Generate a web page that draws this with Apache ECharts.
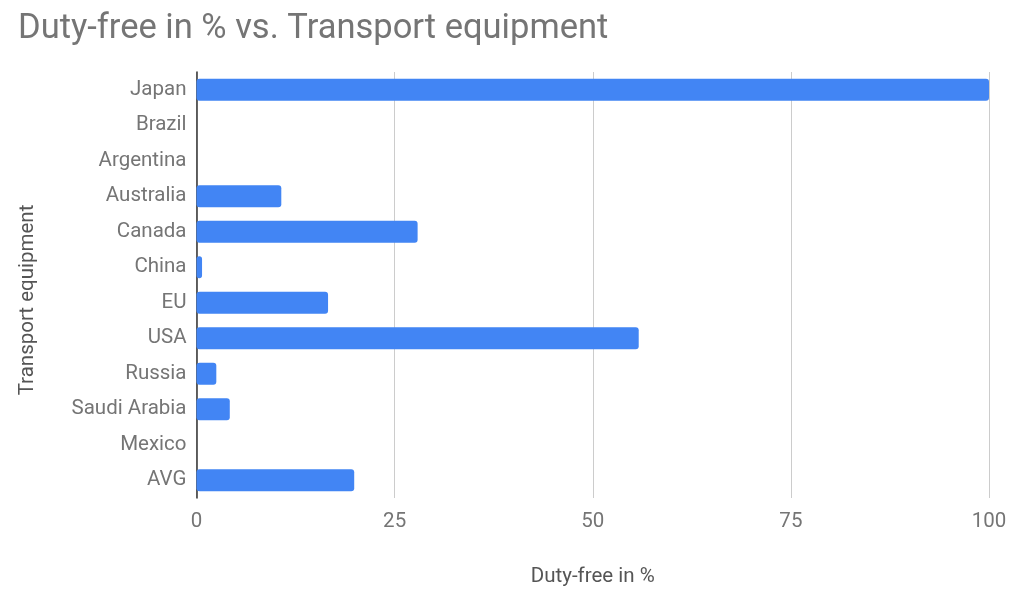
<!DOCTYPE html>
<html>
<head>
<meta charset="utf-8">
<style>html,body{margin:0;padding:0;background:#fff}#c{width:1024px;height:602px}</style>
<script src="https://cdn.jsdelivr.net/npm/echarts@6/dist/echarts.min.js"></script>
</head>
<body>
<div id="c"></div>
<script>
const categories = ["Japan","Brazil","Argentina","Australia","Canada","China","EU","USA","Russia","Saudi Arabia","Mexico","AVG"];
const dutyFree = [100, 0, 0, 10.7, 27.9, 0.7, 16.6, 55.8, 2.5, 4.2, 0, 19.9];
const xTicks = [0, 25, 50, 75, 100];

const chart = echarts.init(document.getElementById('c'));
chart.setOption({
  backgroundColor: '#fff',
  animation: false,
  title: {
    text: 'Duty-free in % vs. Transport equipment',
    left: 13, top: 7,
    textStyle: { fontFamily: 'Roboto', fontSize: 34.5, fontWeight: 'normal', color: '#757575' }
  },
  grid: { left: 196.5, right: 35, top: 72, bottom: 104, containLabel: false },
  xAxis: {
    type: 'value', min: xTicks[0], max: xTicks[xTicks.length - 1], interval: 25,
    name: 'Duty-free in %', nameLocation: 'middle', nameGap: 68,
    nameTextStyle: { fontFamily: 'Roboto', fontSize: 20.5, color: '#555' },
    axisLine: { show: false }, axisTick: { show: false },
    axisLabel: { fontFamily: 'Roboto', fontSize: 20.5, color: '#757575', margin: 13 },
    splitLine: { lineStyle: { color: '#cccccc', width: 1 } }
  },
  yAxis: {
    type: 'category', data: categories, inverse: true,
    name: 'Transport equipment', nameLocation: 'middle', nameGap: 158,
    nameTextStyle: { fontFamily: 'Roboto', fontSize: 20.5, color: '#555', padding: [0, 30, 0, 0] },
    axisLine: { show: true, lineStyle: { color: '#333', width: 1.5 } },
    axisTick: { show: false },
    axisLabel: { fontFamily: 'Roboto', fontSize: 20.5, color: '#757575', margin: 10 },
    splitLine: { show: false }
  },
  series: [{
    type: 'bar', data: dutyFree, barCategoryGap: '38%',
    itemStyle: { color: '#4285F4', borderRadius: 3 }
  }]
});
</script>
</body>
</html>
